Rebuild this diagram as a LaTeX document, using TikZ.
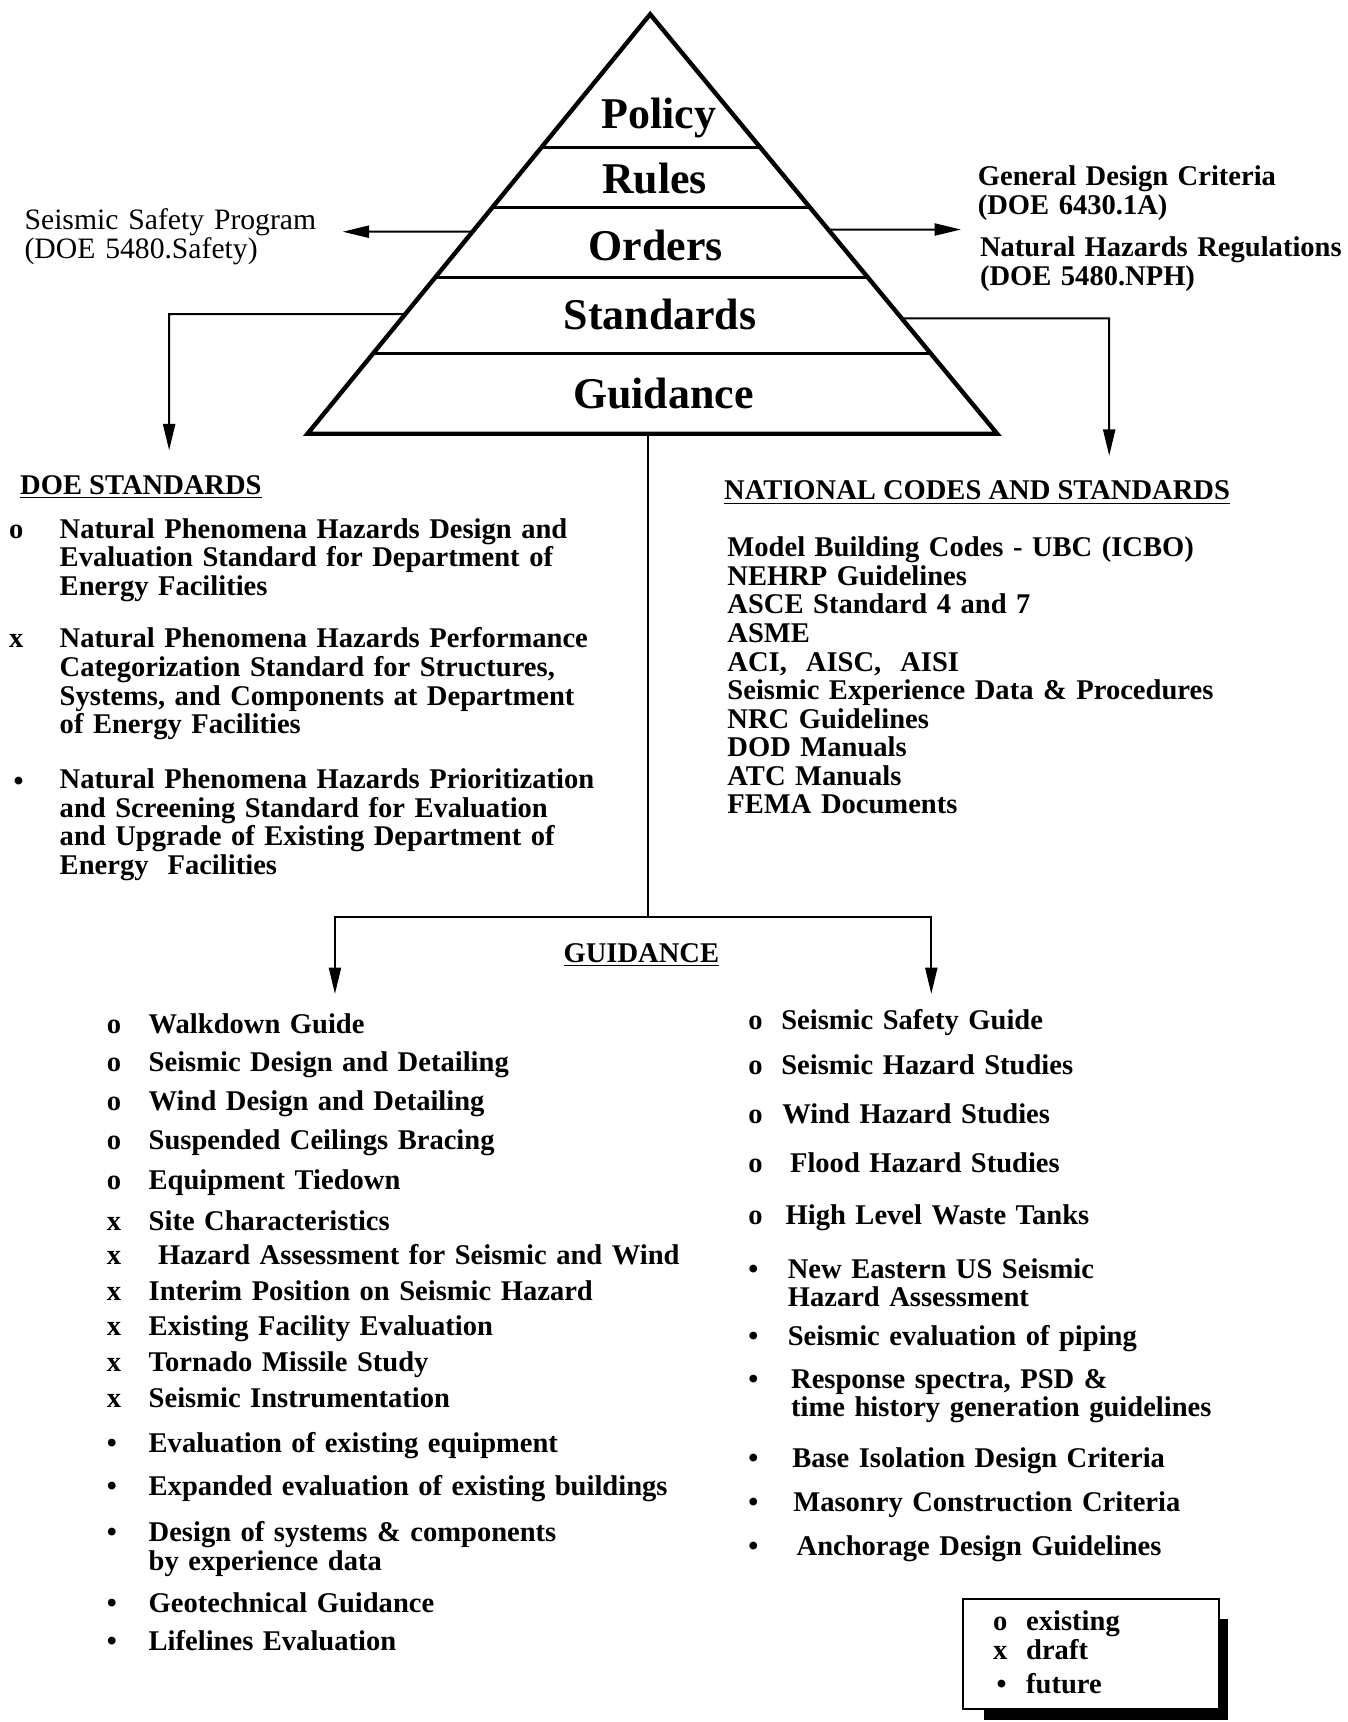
\documentclass[tikz,border=0pt]{standalone}
\usepackage{fontspec}
\setmainfont{Liberation Serif}
\usetikzlibrary{arrows.meta,calc}
\begin{document}
\begin{tikzpicture}[x=0.5pt,y=-0.5pt,
  txt/.style={anchor=base west, inner sep=0pt, font=\fontsize{13}{13}\selectfont\bfseries},
  blk/.style={txt, text width=320pt, align=left},
  lbl/.style={anchor=base, inner sep=0pt, font=\fontsize{20}{20}\selectfont\bfseries},
  pyr/.style={line width=2pt, line join=miter},
  band/.style={line width=1.5pt},
  conn/.style={line width=0.9pt},
  arr/.style={conn, -{Triangle[length=12pt,width=5.5pt]}},
]
\useasboundingbox (0,0) rectangle (1227,1568);

% ---------- pyramid ----------
\coordinate (apex) at (592,13);
\coordinate (bl) at (280,395);
\coordinate (br) at (908,395);
\draw[pyr] (apex) -- (bl) -- (br) -- cycle;
\foreach \yy/\nm in {134/a,189/b,253/c,322/d}{
  \draw[band] ($(apex)!{(\yy-13)/382}!(bl)$) -- ($(apex)!{(\yy-13)/382}!(br)$);
}
\node[lbl] (policy) at (600,117) {Policy};
\node[lbl] (rules) at (596,176) {Rules};
\node[lbl] (orders) at (597,237) {Orders};
\node[lbl] (standards) at (601,300) {Standards};
\node[lbl] (guidance) at (604,372) {Guidance};

% edge points
\coordinate (eLo) at ($(apex)!{(211-13)/382}!(bl)$);
\coordinate (eRo) at ($(apex)!{(209-13)/382}!(br)$);
\coordinate (eLs) at ($(apex)!{(286-13)/382}!(bl)$);
\coordinate (eRs) at ($(apex)!{(290-13)/382}!(br)$);
\coordinate (base) at (590,395);

% ---------- top side texts ----------
\node[blk, font=\fontsize{13.5}{13}\selectfont] (ssp) at (22,209) {Seismic Safety Program\\(DOE 5480.Safety)};
\node[blk] (gdc) at (890,169) {General Design Criteria\\(DOE 6430.1A)};
\node[blk] (nhr) at (892,234) {Natural Hazards Regulations\\(DOE 5480.NPH)};

\coordinate (tipL) at (312,211);
\coordinate (tipR) at (875,209);
\draw[arr] (eLo) -- (tipL);
\draw[arr] (eRo) -- (tipR);

% ---------- DOE standards ----------
\node[txt] (doeh) at (18,450) {\underline{DOE STANDARDS}};
\coordinate (cornL) at (154,286);
\coordinate (tipDL) at (154,410);
\draw[arr] (eLs) -- (cornL) -- (tipDL);

\node[txt] (dm1) at (8,490) {o};
\node[blk] (doe1) at (54,490) {Natural Phenomena Hazards Design and\\Evaluation Standard for Department of\\Energy Facilities};
\node[txt] (dm2) at (8,590) {x};
\node[blk] (doe2) at (54,590) {Natural Phenomena Hazards Performance\\Categorization Standard for Structures,\\Systems, and Components at Department\\of Energy Facilities};
\node[txt] (dm3) at (12,720) {•};
\node[blk] (doe3) at (54,718) {Natural Phenomena Hazards Prioritization\\and Screening Standard for Evaluation\\and Upgrade of Existing Department of\\Energy\ \ Facilities};

% ---------- national codes ----------
\node[txt] (nch) at (659,455) {\underline{NATIONAL CODES AND STANDARDS}};
\coordinate (cornR) at (1010,290);
\coordinate (tipDR) at (1010,415);
\draw[arr] (eRs) -- (cornR) -- (tipDR);
\node[blk] (ncl) at (662,507) {Model Building Codes - UBC (ICBO)\\NEHRP Guidelines\\ASCE Standard 4 and 7\\ASME\\ACI,\ \ AISC,\ \ AISI\\Seismic Experience Data \& Procedures\\NRC Guidelines\\DOD Manuals\\ATC Manuals\\FEMA Documents};

% ---------- guidance branch ----------
\coordinate (junc) at (590,835);
\coordinate (gl) at (305,835);
\coordinate (gr) at (848,835);
\coordinate (tipGL) at (305,905);
\coordinate (tipGR) at (848,905);
\draw[conn] (base) -- (junc);
\draw[arr] (junc) -- (gl) -- (tipGL);
\draw[arr] (junc) -- (gr) -- (tipGR);
\node[txt, anchor=base] (gh) at (584,876) {\underline{GUIDANCE}};

% left guidance list
\foreach \m/\yy/\t/\nm in {
 o/941/Walkdown Guide/l1,
 o/976/Seismic Design and Detailing/l2,
 o/1011/Wind Design and Detailing/l3,
 o/1047/Suspended Ceilings Bracing/l4,
 o/1083/Equipment Tiedown/l5,
 x/1120/Site Characteristics/l6,
 x/1151/\ Hazard Assessment for Seismic and Wind/l7,
 x/1184/Interim Position on Seismic Hazard/l8,
 x/1216/Existing Facility Evaluation/l9,
 x/1249/Tornado Missile Study/l10,
 x/1282/Seismic Instrumentation/l11,
 •/1323/Evaluation of existing equipment/l12,
 •/1362/Expanded evaluation of existing buildings/l13,
 •/1404/{Design of systems \& components\\by experience data}/l14,
 •/1468/Geotechnical Guidance/l15,
 •/1503/Lifelines Evaluation/l16}{
  \node[txt] (m\nm) at (97,\yy) {\m};
  \node[blk] (\nm) at (135,\yy) {\t};
}

% right guidance list
\foreach \m/\xx/\yy/\t/\nm in {
 o/711/937/Seismic Safety Guide/r1,
 o/711/978/Seismic Hazard Studies/r2,
 o/712/1023/Wind Hazard Studies/r3,
 o/719/1068/Flood Hazard Studies/r4,
 o/715/1115/High Level Waste Tanks/r5,
 •/717/1164/{New Eastern US Seismic\\Hazard Assessment}/r6,
 •/717/1225/Seismic evaluation of piping/r7,
 •/720/1264/{Response spectra, PSD \&\\time history generation guidelines}/r8,
 •/721/1336/Base Isolation Design Criteria/r9,
 •/722/1376/Masonry Construction Criteria/r10,
 •/725/1416/Anchorage Design Guidelines/r11}{
  \node[txt] (m\nm) at (681,\yy) {\m};
  \node[blk] (\nm) at (\xx,\yy) {\t};
}

% ---------- legend ----------
\fill (1110,1474) rectangle (1118,1566);
\fill (896,1556) rectangle (1118,1566);
\draw[line width=0.8pt, fill=white] (877,1456) rectangle (1110,1556);
\node[txt] (lo) at (904,1485) {o};
\node[txt] (le) at (934,1485) {existing};
\node[txt] (lx) at (904,1511) {x};
\node[txt] (ld) at (934,1511) {draft};
\node[txt] (lb) at (907,1542) {•};
\node[txt] (lf) at (934,1542) {future};
\end{tikzpicture}
\end{document}
